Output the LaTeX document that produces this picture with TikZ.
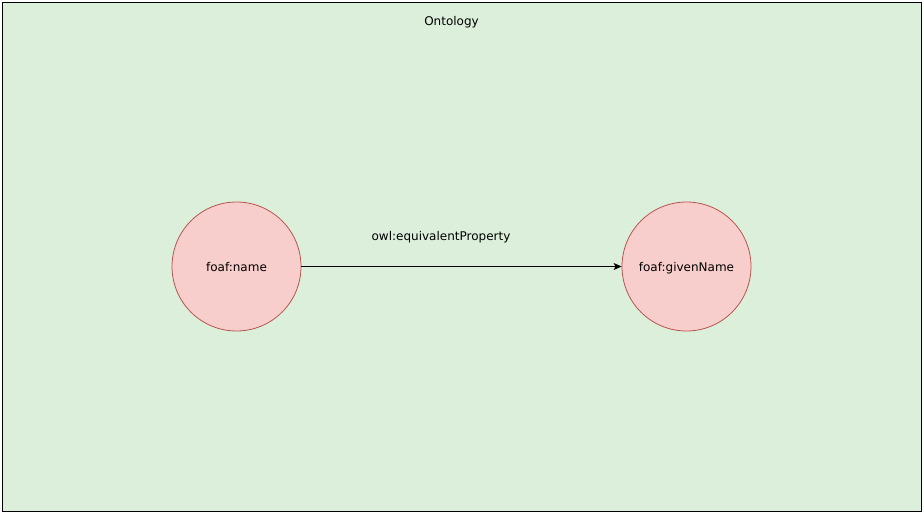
\documentclass[tikz,border=0pt]{standalone}
\usepackage{fontspec}
\setmainfont{DejaVu Sans}
\usetikzlibrary{arrows.meta}
\definecolor{bggreen}{HTML}{DCEFDA}
\definecolor{nodefill}{HTML}{F8CECC}
\definecolor{nodeline}{HTML}{B85450}
\newcommand{\midtext}[1]{\raisebox{-4.6pt}[0pt][0pt]{#1}}
\tikzset{
  concept/.style={circle, draw=nodeline, fill=nodefill, line width=0.8pt, minimum size=129pt, inner sep=0pt, font=\fontsize{12pt}{14pt}\selectfont},
  txt/.style={inner sep=0pt, anchor=base, font=\fontsize{12pt}{14pt}\selectfont},
  rel/.style={draw=black, line width=0.9pt, -{Stealth[length=8pt,width=7pt,inset=2pt]}}
}
\begin{document}
\begin{tikzpicture}[x=1pt,y=-1pt]
\useasboundingbox (0,0) rectangle (924,514);
\node[draw=black, fill=bggreen, line width=1pt, minimum width=919.5pt, minimum height=509.5pt, inner sep=0pt, anchor=north west] (frame) at (1.5,1.5) {};
\node[txt] (title) at (451.5,25.3) {Ontology};
\node[concept] (name) at (236.5,266.5) {\midtext{foaf:name}};
\node[concept] (given) at (686.5,266.5) {\midtext{foaf:givenName}};
\draw[rel] (name) -- (given);
\node[txt] (lbl) at (441,240.5) {owl:equivalentProperty};
\end{tikzpicture}
\end{document}
